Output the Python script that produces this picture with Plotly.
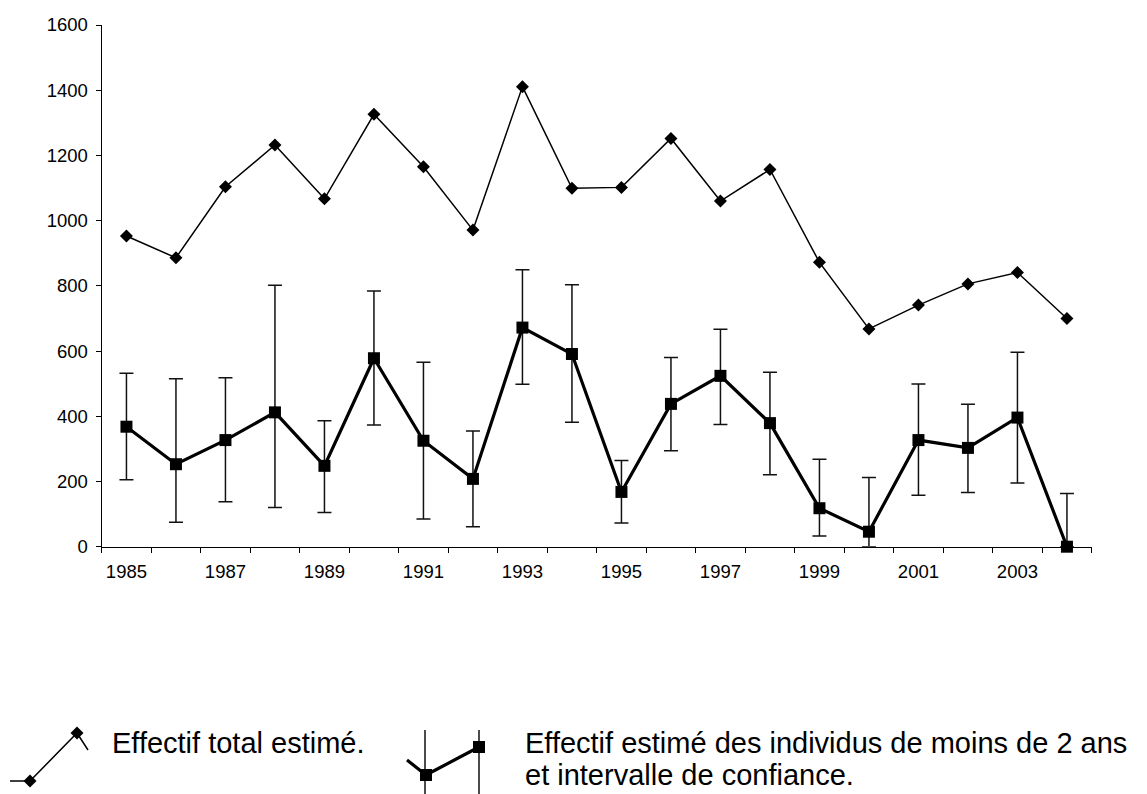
import plotly.graph_objects as go

# ---- data ----
years = list(range(1985, 2005))
total_est = [953, 886, 1104, 1232, 1067, 1326, 1165, 971, 1411, 1099,
             1102, 1252, 1060, 1157, 872, 668, 741, 806, 841, 700]
young_est = [368, 253, 327, 412, 248, 578, 325, 208, 672, 591,
             168, 438, 524, 379, 118, 46, 327, 303, 396, 0]
young_hi = [532, 515, 518, 802, 386, 784, 566, 355, 849, 803,
            264, 580, 667, 535, 268, 212, 499, 437, 596, 163]
young_lo = [205, 75, 138, 120, 105, 373, 85, 61, 498, 382,
            73, 294, 375, 221, 33, 0, 158, 166, 195, 0]
x_labels = [str(y) for y in range(1985, 2004, 2)]
y_ticks = list(range(0, 1601, 200))
legend_total = "Effectif total estimé."
legend_young_1 = "Effectif estimé des individus de moins de 2 ans"
legend_young_2 = "et intervalle de confiance."

W, H = 1147, 794
FONT = "Liberation Sans, Arial, sans-serif"
LEG_SIZE = 29
TICK_SIZE = 18.5

err_plus = [h - c for h, c in zip(young_hi, young_est)]
err_minus = [c - l for c, l in zip(young_est, young_lo)]

fig = go.Figure()

fig.add_trace(go.Scatter(
    x=years, y=total_est, mode="lines+markers",
    line=dict(color="black", width=1.5),
    marker=dict(symbol="diamond", size=10, color="black"),
    cliponaxis=False, showlegend=False))

fig.add_trace(go.Scatter(
    x=years, y=young_est, mode="lines+markers",
    line=dict(color="black", width=3.2),
    marker=dict(symbol="square", size=12, color="black"),
    error_y=dict(type="data", symmetric=False, array=err_plus,
                 arrayminus=err_minus, color="#111111", thickness=1.5, width=7),
    cliponaxis=False, showlegend=False))

# ---- legend glyphs drawn on a full-page helper axis in pixel units ----
leg_tot_x = [10, 30, 77, 88]
leg_tot_y = [781, 781, 733, 750]
fig.add_trace(go.Scatter(x=leg_tot_x, y=leg_tot_y, mode="lines",
                         line=dict(color="black", width=1.5),
                         xaxis="x2", yaxis="y2", showlegend=False))
fig.add_trace(go.Scatter(x=leg_tot_x[1:3], y=leg_tot_y[1:3], mode="markers",
                         marker=dict(symbol="diamond", size=10, color="black"),
                         xaxis="x2", yaxis="y2", showlegend=False))
for vx in (425, 479):
    fig.add_trace(go.Scatter(x=[vx, vx], y=[730, 794], mode="lines",
                             line=dict(color="#111111", width=1.5),
                             xaxis="x2", yaxis="y2", showlegend=False))
leg_y_x = [407, 426, 479]
leg_y_y = [760, 775, 747]
fig.add_trace(go.Scatter(x=leg_y_x, y=leg_y_y, mode="lines",
                         line=dict(color="black", width=3.2),
                         xaxis="x2", yaxis="y2", showlegend=False))
fig.add_trace(go.Scatter(x=leg_y_x[1:], y=leg_y_y[1:], mode="markers",
                         marker=dict(symbol="square", size=12, color="black"),
                         xaxis="x2", yaxis="y2", showlegend=False))


def add_text(x, y, text):
    fig.add_annotation(x=x, y=y, text=text, xref="x2", yref="y2",
                       xanchor="left", yanchor="middle", showarrow=False,
                       font=dict(family=FONT, size=LEG_SIZE, color="black"))


add_text(110, 743, legend_total)
add_text(523, 743, legend_young_1)
add_text(523, 775, legend_young_2)

x0, x1 = 101.7, 1091.7
y_top, y_bot = 25, 546.7

fig.update_layout(
    width=W, height=H,
    margin=dict(l=0, r=0, t=0, b=0, autoexpand=False),
    paper_bgcolor="white", plot_bgcolor="rgba(0,0,0,0)",
    font=dict(family=FONT, size=TICK_SIZE, color="black"),
    xaxis=dict(
        domain=[x0 / W, x1 / W], range=[1984.5, 2004.5], anchor="y",
        tickvals=list(range(1985, 2004, 2)), ticktext=x_labels,
        ticks="", showgrid=False, zeroline=False, automargin=False,
        showline=True, linecolor="black", linewidth=1.3,
        minor=dict(tickvals=[y - 0.5 for y in years] + [2004.5],
                   ticks="outside", ticklen=5, tickcolor="black", tickwidth=1.3),
        tickfont=dict(size=TICK_SIZE), ticklabelstandoff=8,
    ),
    yaxis=dict(
        domain=[(H - y_bot) / H, (H - y_top) / H], range=[0, 1600], anchor="x",
        tickvals=y_ticks, ticks="outside", ticklen=5, tickcolor="black",
        tickwidth=1.3, showgrid=False, zeroline=False, automargin=False,
        showline=True, linecolor="black", linewidth=1.3,
        tickfont=dict(size=TICK_SIZE), ticklabelstandoff=4,
    ),
    xaxis2=dict(domain=[0, 1], range=[0, W], visible=False, fixedrange=True,
                anchor="y2"),
    yaxis2=dict(domain=[0, 1], range=[H, 0], visible=False, fixedrange=True,
                anchor="x2"),
)

fig.write_html("out.html")
